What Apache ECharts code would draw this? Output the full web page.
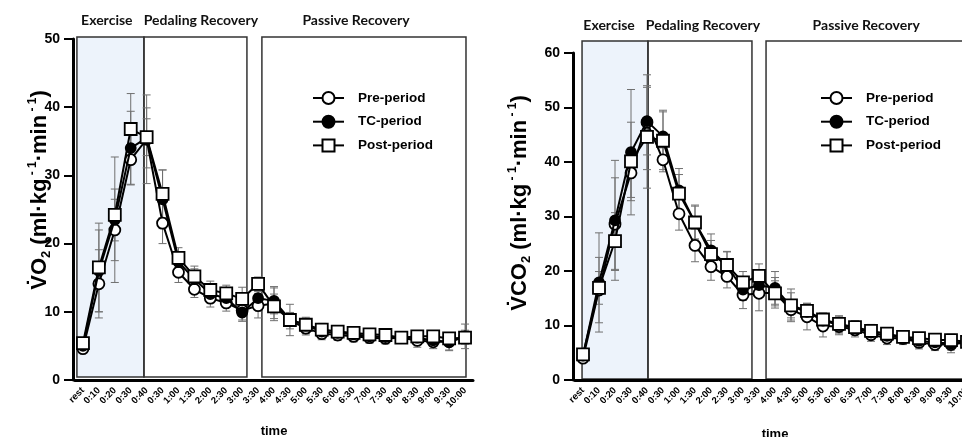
<!DOCTYPE html>
<html><head><meta charset="utf-8">
<script src="https://cdn.jsdelivr.net/npm/echarts@6/dist/echarts.min.js"></script>
<style>html,body{margin:0;padding:0;background:#fff}#c{width:962px;height:437px}</style>
</head><body><div id="c"></div>
<script>
// ---------- data ----------
const timeLabels = ['rest','0:10','0:20','0:30','0:40','0:30','1:00','1:30','2:00','2:30','3:00','3:30','4:00','4:30','5:00','5:30','6:00','6:30','7:00','7:30','8:00','8:30','9:00','9:30','10:00'];
const seriesNames = ['Pre-period','TC-period','Post-period'];

const vo2Pre  = [4.6,14.1,22.0,32.3,35.3,23.0,15.8,13.3,12.0,11.3,10.2,10.9,11.2,8.7,7.6,6.8,6.6,6.4,6.2,6.1,6.2,5.8,5.6,5.6,6.3];
const vo2TC   = [5.0,16.0,23.5,34.0,35.5,26.5,17.3,14.8,12.6,12.0,9.9,12.0,11.6,8.9,8.0,7.1,6.9,6.7,6.4,6.3,6.2,6.2,5.8,5.6,6.4];
const vo2Post = [5.4,16.5,24.2,36.8,35.6,27.3,17.9,15.2,13.2,12.7,11.9,14.1,10.8,8.8,8.1,7.4,7.1,6.9,6.7,6.6,6.2,6.4,6.4,6.1,6.2];
const vo2PreSD  = [0.4,5.0,4.5,3.6,6.5,3.0,1.5,1.2,1.3,1.2,1.4,1.8,2.5,1.2,1.0,0.9,0.8,0.8,0.8,0.8,0.7,1.0,1.0,1.2,1.0];
const vo2TCSD   = [0.5,6.0,9.2,5.4,4.4,4.3,1.5,1.5,1.3,1.2,1.3,1.0,1.9,1.0,1.2,0.9,0.8,0.8,0.8,0.8,0.7,0.8,0.9,1.3,1.8];
const vo2PostSD = [0.5,6.5,3.8,5.2,2.7,3.5,1.5,1.5,1.3,1.2,1.7,1.0,1.8,2.3,0.9,0.9,0.8,0.8,0.8,0.8,0.7,0.8,0.8,0.8,0.9];

const vco2Pre  = [4.0,16.5,28.6,38.0,47.3,40.4,30.5,24.7,20.8,19.0,15.6,15.9,16.0,12.9,11.6,9.9,9.8,9.2,8.3,7.7,7.6,6.9,6.5,6.5,6.9];
const vco2TC   = [4.5,17.9,29.3,41.8,47.5,44.7,34.8,28.9,23.8,21.0,16.6,17.4,16.9,13.5,12.5,10.9,10.1,9.5,8.7,8.1,7.8,7.2,6.9,6.7,6.9];
const vco2Post = [4.7,16.9,25.5,40.1,44.6,43.9,34.2,28.9,23.1,21.1,17.9,19.1,15.9,13.7,12.7,11.1,10.3,9.7,9.0,8.5,7.9,7.7,7.4,7.3,7.0];
const vco2PreSD  = [0.5,6.0,8.5,4.5,8.7,2.2,3.0,3.0,2.5,2.1,2.5,3.2,2.8,1.5,2.4,2.0,1.5,1.3,1.2,1.2,1.1,1.2,1.1,1.0,1.0];
const vco2TCSD   = [0.6,9.1,11.0,11.5,6.2,4.8,4.0,3.0,3.0,2.5,2.0,1.5,3.0,2.5,1.5,1.2,1.5,1.2,1.2,1.2,1.0,1.1,1.2,1.7,1.2];
const vco2PostSD = [0.6,3.0,5.2,7.2,9.4,5.3,3.5,3.2,2.5,2.5,2.0,2.2,2.3,3.0,1.4,1.2,1.5,1.2,1.2,1.1,1.0,1.0,1.0,1.0,1.0];

// phase boxes in category-index units and y units
const leftBoxX  = [[-0.38,3.83],[3.83,10.3],[11.24,24.06]];
const leftBoxY  = [0.44,50.3];
const rightBoxX = [[-0.06,4.06],[4.06,10.56],[11.44,24.2]];
const rightBoxY = [0.2,62.2];
const phaseNames = ['Exercise','Pedaling Recovery','Passive Recovery'];
const leftHeadX  = [1.5,7.41,17.15];
const rightHeadX = [1.63,7.5,17.7];

// ---------- chart ----------
const chart = echarts.init(document.getElementById('c'), null, {renderer:'canvas'});
const FONT = '"Liberation Sans", Arial, sans-serif';

function xAxisCfg(gi){
  return {
    type:'category', gridIndex:gi, data:timeLabels, boundaryGap:true,
    axisLine:{lineStyle:{color:'#000',width:3}},
    axisTick:{alignWithLabel:true,length:6,lineStyle:{color:'#000',width:2}},
    axisLabel:{rotate:45,interval:0,fontSize:9.5,fontWeight:'bold',color:'#000',fontFamily:FONT,margin:9},
    splitLine:{show:false}
  };
}
function yAxisCfg(gi,max){
  return {
    type:'value', gridIndex:gi, min:0, max:max, interval:10, offset:2,
    axisLine:{show:true,lineStyle:{color:'#000',width:3}},
    axisTick:{show:true,length:9,lineStyle:{color:'#000',width:2}},
    axisLabel:{fontSize:14,fontWeight:'bold',color:'#000',fontFamily:FONT,margin:13},
    splitLine:{show:false}
  };
}
const markers = [
  {symbol:'circle',size:11,fill:'#fff'},
  {symbol:'circle',size:10,fill:'#000'},
  {symbol:'rect',size:12,fill:'#fff'}
];
function lineSeries(gi,k,data){
  const m = markers[k];
  return {
    type:'line', name:seriesNames[k], xAxisIndex:gi, yAxisIndex:gi, data:data, z:3+k,
    symbol:m.symbol, symbolSize:m.size, showAllSymbol:true,
    lineStyle:{color:'#000',width:2},
    itemStyle:{color:m.fill,borderColor:'#000',borderWidth:1.8},
    emphasis:{disabled:true}
  };
}
function errSeries(gi,vals,errs){
  return {
    type:'custom', xAxisIndex:gi, yAxisIndex:gi, z:2, silent:true,
    data: vals.map((v,i)=>[i, v-errs[i], v+errs[i]]),
    encode:{x:0,y:[1,2]},
    renderItem:function(params,api){
      const x = api.value(0);
      const lo = api.coord([x, api.value(1)]);
      const hi = api.coord([x, api.value(2)]);
      const w = 4, st = {stroke:'#707070', lineWidth:1};
      return {type:'group', children:[
        {type:'line', shape:{x1:lo[0],y1:lo[1],x2:hi[0],y2:hi[1]}, style:st},
        {type:'line', shape:{x1:lo[0]-w,y1:lo[1],x2:lo[0]+w,y2:lo[1]}, style:st},
        {type:'line', shape:{x1:hi[0]-w,y1:hi[1],x2:hi[0]+w,y2:hi[1]}, style:st}
      ]};
    }
  };
}
function legendCfg(left){
  return {
    orient:'vertical', left:left, top:91, itemWidth:31, itemHeight:15, itemGap:9.7,
    padding:0, selectedMode:false, data:seriesNames,
    textStyle:{fontSize:13.5,fontWeight:'bold',color:'#000',fontFamily:FONT,padding:[0,0,0,9]}
  };
}

chart.setOption({
  animation:false,
  backgroundColor:'#fff',
  grid:[
    {left:75, top:39, width:398, height:341, outerBoundsMode:'none', containLabel:false},
    {left:575, top:53, width:400, height:327, outerBoundsMode:'none', containLabel:false}
  ],
  xAxis:[xAxisCfg(0), xAxisCfg(1)],
  yAxis:[yAxisCfg(0,50), yAxisCfg(1,60)],
  legend:[legendCfg(312), legendCfg(820)],
  series:[
    errSeries(0,vo2Pre,vo2PreSD), errSeries(0,vo2TC,vo2TCSD), errSeries(0,vo2Post,vo2PostSD),
    lineSeries(0,0,vo2Pre), lineSeries(0,1,vo2TC), lineSeries(0,2,vo2Post),
    errSeries(1,vco2Pre,vco2PreSD), errSeries(1,vco2TC,vco2TCSD), errSeries(1,vco2Post,vco2PostSD),
    lineSeries(1,0,vco2Pre), lineSeries(1,1,vco2TC), lineSeries(1,2,vco2Post)
  ]
});

function xPix(ai,f){
  const a = chart.convertToPixel({xAxisIndex:ai},0);
  const b = chart.convertToPixel({xAxisIndex:ai},1);
  return a + (b-a)*f;
}
function yPix(ai,v){ return chart.convertToPixel({yAxisIndex:ai},v); }

const els = [];
function addBoxes(ai,boxX,boxY,headX){
  const top = yPix(ai,boxY[1]), bot = yPix(ai,boxY[0]);
  boxX.forEach((bx,k)=>{
    const x1 = xPix(ai,bx[0]), x2 = xPix(ai,bx[1]);
    els.push({type:'rect', z:0, silent:true,
      shape:{x:x1,y:top,width:x2-x1,height:bot-top},
      style:{fill: k===0 ? '#edf3fb' : 'rgba(0,0,0,0)', stroke:'#333', lineWidth:1.5}});
    els.push({type:'text', z:5, silent:true, x:xPix(ai,headX[k]), y:top-16,
      style:{text:phaseNames[k], fill:'#111', font:'bold 14px Lato, "Open Sans", sans-serif', align:'center', verticalAlign:'middle'}});
  });
}
addBoxes(0,leftBoxX,leftBoxY,leftHeadX);
addBoxes(1,rightBoxX,rightBoxY,rightHeadX);

function yTitle(x,y,mol){
  return {type:'text', z:5, silent:true, x:x, y:y, rotation:Math.PI/2,
    style:{
      text:'{a|V\u0307' + mol + '}{s|2}{a| (ml·kg}{p| - 1}{a|·min}{p| - 1}{a|)}',
      align:'center', verticalAlign:'middle',
      rich:{
        a:{font:'bold 22px "Liberation Sans", Arial, sans-serif', fill:'#000', lineHeight:26, verticalAlign:'middle'},
        s:{font:'bold 13px "Liberation Sans", Arial, sans-serif', fill:'#000', lineHeight:13, verticalAlign:'bottom'},
        p:{font:'bold 12px "Liberation Sans", Arial, sans-serif', fill:'#000', lineHeight:12, verticalAlign:'top'}
      }
    }};
}
els.push(yTitle(40,190,'O'));
els.push(yTitle(520,203,'CO'));

function xTitle(ai,y){
  return {type:'text', z:5, silent:true, x:xPix(ai,12), y:y,
    style:{text:'time', fill:'#000', font:'bold 13px "Liberation Sans", Arial, sans-serif', align:'center', verticalAlign:'middle'}};
}
els.push(xTitle(0,431));
els.push(xTitle(1,434));

chart.setOption({graphic:{elements:els}});
</script>
</body></html>
